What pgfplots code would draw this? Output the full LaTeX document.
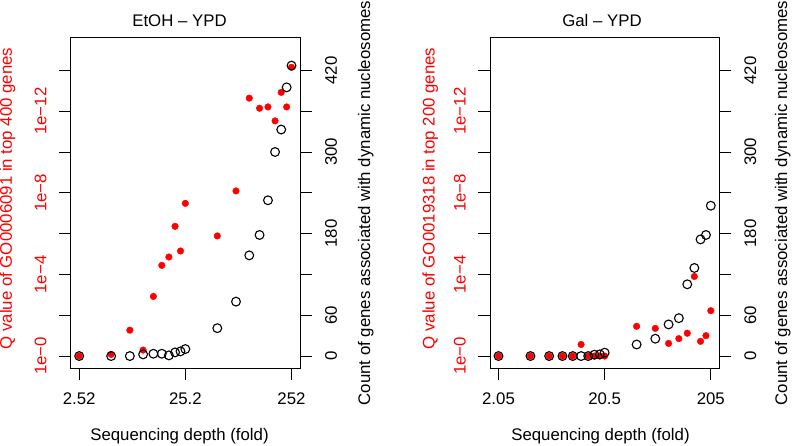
\documentclass[border=0pt]{standalone}
\usepackage{fontspec}
\setmainfont{Liberation Sans}
\usepackage{pgfplots}
\pgfplotsset{compat=1.18}
\usepackage{pgfplotstable}
\newcommand\fs{\fontsize{16.8}{20}\selectfont}

% depth (fold), Q value, count of genes
\pgfplotstableread{
x      q        n
2.52   1        0
5.04   0.83     0
7.56   0.054    0
10.08  0.51     2.5
12.6   1.2e-3   3.4
15.12  3.6e-5   3.4
17.64  1.4e-5   1
20.16  4.4e-7   5.4
22.68  7.1e-6   6.9
25.2   3.3e-8   10.3
50.4   1.3e-6   41
75.6   8.1e-9   80
100.8  2.3e-13  148
126    7.2e-13  178
151.2  6.2e-13  229
176.4  3.0e-12  300
201.6  1.2e-13  333
226.8  6.2e-13  395
252    7.1e-15  427
}\etoh

\pgfplotstableread{
x      q        n
2.05   1        0
4.1    1        0
6.15   1        0
8.2    1        0
10.25  1        0
12.3   0.27     0
14.35  1        0
16.4   1        2
18.45  1        2.5
20.5   1        5
41     0.035    17
61.5   0.044    25.5
82     0.24     46.5
102.5  0.14     55.7
123    0.076    105.5
143.5  1.26e-4  129.5
164    0.19     171.5
184.5  0.10     178
205    6.0e-3   221
}\gal

\pgfplotsset{
  every axis/.append style={
    scale only axis, width=229.3pt, height=330.6pt, anchor=south west,
    xmode=log, xminorticks=false,
    tick align=outside, major tick length=12pt,
    tick style={black, line width=0.9pt},
    axis line style={line width=0.9pt},
    ticklabel style={font=\fs},
  },
}

\begin{document}
\begin{tikzpicture}
\useasboundingbox (0,0) rectangle (794pt,445pt);

% EtOH - YPD: Q values
\begin{axis}[at={(70.7pt,76.7pt)}, xmin=2.096, xmax=302.97,
  xtick={2.52,25.2,252}, xticklabels={2.52,25.2,252},
  ymode=log, y dir=reverse, yminorticks=false,
  ymin=2.512e-16, ymax=3.981,
  ytick={1,1e-2,1e-4,1e-6,1e-8,1e-10,1e-12,1e-14},
  yticklabels={1e−0,,1e−4,,1e−8,,1e−12,},
  xtick pos=left, ytick pos=left,
  yticklabel style={rotate=90, anchor=south, inner sep=0pt, text=red},
  xticklabel style={anchor=north, inner sep=0pt},
  xticklabel shift=12pt, yticklabel shift=12pt]
\addplot[only marks, mark=*, mark size=3.3pt, red, mark options={draw=none, fill=red}]
  table[x=x, y=q] {\etoh};
\end{axis}
% EtOH - YPD: counts
\begin{axis}[at={(70.7pt,76.7pt)}, xmin=2.096, xmax=302.97,
  axis x line=none, axis y line*=right,
  ymin=-18, ymax=468, ytick={0,60,...,420},
  yticklabels={0,60,,180,,300,,420},
  yticklabel style={rotate=90, anchor=north, inner sep=0pt},
  yticklabel shift=13pt]
\addplot[only marks, mark=o, mark size=4.4pt, black, mark options={line width=1.1pt}]
  table[x=x, y=n] {\etoh};
\end{axis}

% Gal - YPD: Q values
\begin{axis}[at={(490pt,76.7pt)}, xmin=1.7051, xmax=246.46,
  xtick={2.05,20.5,205}, xticklabels={2.05,20.5,205},
  ymode=log, y dir=reverse, yminorticks=false,
  ymin=2.512e-16, ymax=3.981,
  ytick={1,1e-2,1e-4,1e-6,1e-8,1e-10,1e-12,1e-14},
  yticklabels={1e−0,,1e−4,,1e−8,,1e−12,},
  xtick pos=left, ytick pos=left,
  yticklabel style={rotate=90, anchor=south, inner sep=0pt, text=red},
  xticklabel style={anchor=north, inner sep=0pt},
  xticklabel shift=12pt, yticklabel shift=12pt]
\addplot[only marks, mark=*, mark size=3.3pt, red, mark options={draw=none, fill=red}]
  table[x=x, y=q] {\gal};
\end{axis}
% Gal - YPD: counts
\begin{axis}[at={(490pt,76.7pt)}, xmin=1.7051, xmax=246.46,
  axis x line=none, axis y line*=right,
  ymin=-18, ymax=468, ytick={0,60,...,420},
  yticklabels={0,60,,180,,300,,420},
  yticklabel style={rotate=90, anchor=north, inner sep=0pt},
  yticklabel shift=13pt]
\addplot[only marks, mark=o, mark size=4.4pt, black, mark options={line width=1.1pt}]
  table[x=x, y=n] {\gal};
\end{axis}

\begin{scope}[every node/.style={font=\fs}]
\node[anchor=base] at (179.5pt,418.3pt) {EtOH – YPD};
\node[anchor=base] at (602pt,418.3pt) {Gal – YPD};
\node[anchor=base] at (179.5pt,5pt) {Sequencing depth (fold)};
\node[anchor=base] at (600.5pt,5pt) {Sequencing depth (fold)};
\node[rotate=90, anchor=base, text=red] at (12pt,246.5pt) {Q value of GO0006091 in top 400 genes};
\node[rotate=90, anchor=base, text=red] at (434.5pt,246.5pt) {Q value of GO0019318 in top 200 genes};
\node[rotate=90, anchor=base] at (370pt,242pt) {Count of genes associated with dynamic nucleosomes};
\node[rotate=90, anchor=base] at (787pt,242pt) {Count of genes associated with dynamic nucleosomes};
\end{scope}
\end{tikzpicture}
\end{document}
